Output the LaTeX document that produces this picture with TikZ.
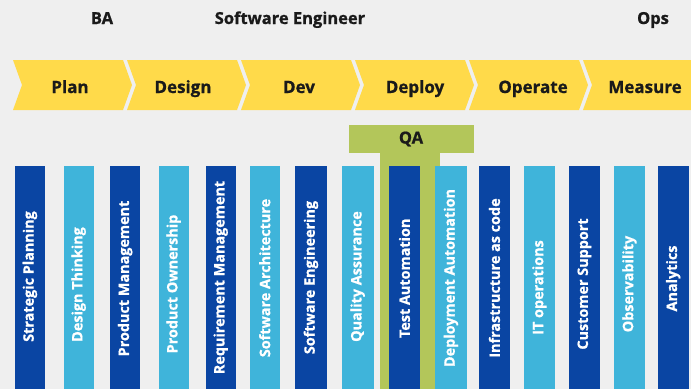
\documentclass[tikz,border=0pt]{standalone}
\usepackage{fontspec}
\setmainfont{Open Sans}[BoldFeatures={FakeBold=0.8}]
\definecolor{bg}{HTML}{EFEFEF}
\definecolor{dblue}{HTML}{0A45A3}
\definecolor{lblue}{HTML}{3FB4DA}
\definecolor{cyell}{HTML}{FFDA4A}
\definecolor{cgreen}{HTML}{B3C65A}
\definecolor{ink}{HTML}{1A1A1A}
\tikzset{
  hdr/.style={font=\fontsize{16.5}{19}\selectfont\bfseries, text=ink, inner sep=0pt, anchor=base},
  chevlab/.style={font=\fontsize{17}{20}\selectfont\bfseries, text=ink, inner sep=0pt, anchor=base},
  chev/.style={fill=cyell},
  barbox/.style={inner sep=0pt, minimum height=223pt, anchor=north west},
  dbar/.style={barbox, fill=dblue},
  lbar/.style={barbox, fill=lblue},
  barlab/.style={font=\fontsize{14.4}{17}\selectfont\bfseries, text=white, rotate=90, inner sep=0pt},
  qabox/.style={fill=cgreen, inner sep=0pt, anchor=north west}
}
\begin{document}
\begin{tikzpicture}[x=1pt,y=-1pt]
\fill[bg] (0,0) rectangle (691,389);
\useasboundingbox (0,0) rectangle (691,389);
% headers
\node[hdr] (ba) at (102,24) {BA};
\node[hdr] (se) at (290,24) {Software Engineer};
\node[hdr] (ops) at (653,24) {Ops};
% chevrons
\foreach \i/\lab/\cx in {0/Plan/70,1/Design/183,2/Dev/299,3/Deploy/415,4/Operate/533,5/Measure/645}{
  \pgfmathsetmacro{\L}{13+114*\i}
  \pgfmathsetmacro{\R}{\L+110}
  \fill[chev] (\L,60) -- (\R,60) -- (\R+9,85) -- (\R,110) -- (\L,110) -- (\L+9,85) -- cycle;
  \node[chevlab] (ch\i) at (\cx,93) {\lab};
}
% QA green stem and box
\fill[cgreen] (380,151) rectangle (440,389);
\node[qabox, minimum width=125pt, minimum height=27.7pt] (qa) at (348.3,125) {};
\node[hdr] (qalab) at ([yshift=-18.5pt]qa.north) {QA};
% bars
\foreach \n/\xa/\xb/\st/\cy/\lab in {
  1/15/44.5/dbar/276.5/Strategic Planning,
  2/63.5/93.5/lbar/284.5/Design Thinking,
  3/110/140/dbar/278.5/Product Management,
  4/158.5/188.5/lbar/284/Product Ownership,
  5/205.5/235.5/dbar/277.5/Requirement Management,
  6/249.5/279.5/lbar/278/Software Architecture,
  7/295/326.5/dbar/277.5/Software Engineering,
  8/341.5/373.5/lbar/276.5/Quality Assurance,
  9/388.5/420/dbar/278.3/Test Automation,
  10/435/466.5/lbar/278/Deployment Automation,
  11/478.5/510/dbar/278/Infrastructure as code,
  12/523.5/555/lbar/287.5/IT operations,
  13/568.5/600/dbar/284/Customer Support,
  14/613.5/645/lbar/284/Observability,
  15/657.5/688.5/dbar/278.5/Analytics}{
  \pgfmathsetmacro{\w}{\xb-\xa}
  \pgfmathsetmacro{\dy}{\cy-166}
  \node[\st, minimum width=\w pt] (bar\n) at (\xa,166) {};
  \node[barlab] (lab\n) at ([yshift=-\dy pt]bar\n.north) {\lab};
}
\end{tikzpicture}
\end{document}
